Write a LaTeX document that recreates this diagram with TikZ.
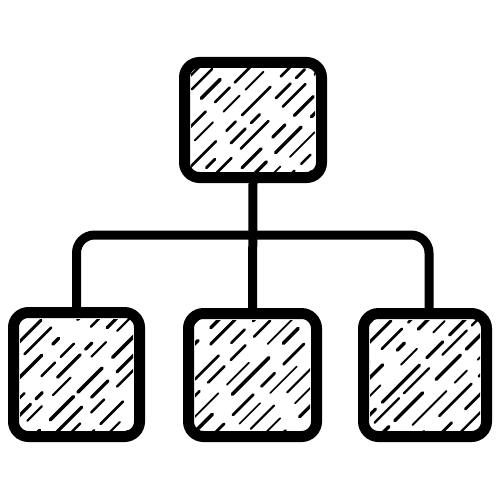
\documentclass[tikz,border=0pt]{standalone}
\usetikzlibrary{calc}
\tikzset{
  box/.style={draw=black, line width=11pt, rounded corners=15pt, fill=white, inner sep=0pt},
  conn/.style={draw=black, line width=9pt, rounded corners=18pt},
  hatch/.style={line width=2.2pt, line cap=round}
}
\newcommand{\hatchbox}[2]{%
  \begin{scope}
    \clip ($(#1.south west)+(12,-12)$) rectangle ($(#1.north east)+(-12,12)$);
    \pgfmathsetseed{#2}
    \foreach \i in {-7,...,7} {
      \pgfmathsetmacro\da{18+rnd*35}
      \pgfmathsetmacro\db{6+rnd*18}
      \pgfmathsetmacro\dc{8+rnd*30}
      \pgfmathsetmacro\dd{8+rnd*22}
      \pgfmathsetmacro\ph{rnd*60}
      \pgfmathsetmacro\lw{1.6+rnd*2.0}
      \pgfmathsetmacro\jit{rnd*6-3}
      \draw[hatch, line width=\lw pt, dash pattern=on \da pt off \db pt on \dc pt off \dd pt, dash phase=\ph pt]
        ($(#1.center)+(\i*18+\jit-90,90)$) -- ++(180,-180);
    }
  \end{scope}
}
\begin{document}
\begin{tikzpicture}[x=1pt,y=-1pt]
  \useasboundingbox (0,0) rectangle (500,500);
  \node[box, minimum width=137pt, minimum height=115pt] (top) at (253,120) {};
  \node[box, minimum width=126pt, minimum height=124pt] (L) at (76.5,374.5) {};
  \node[box, minimum width=128pt, minimum height=123pt] (M) at (252.5,375) {};
  \node[box, minimum width=123pt, minimum height=123pt] (R) at (425,375) {};
  \coordinate (hub) at (253,235);
  \coordinate (rtop) at ([xshift=4pt]R.north);
  \draw[conn] (top.south) -- (M.north);
  \draw[conn] (L.north) |- (hub) -| (rtop);
  \hatchbox{top}{11}
  \hatchbox{L}{23}
  \hatchbox{M}{37}
  \hatchbox{R}{51}
\end{tikzpicture}
\end{document}
